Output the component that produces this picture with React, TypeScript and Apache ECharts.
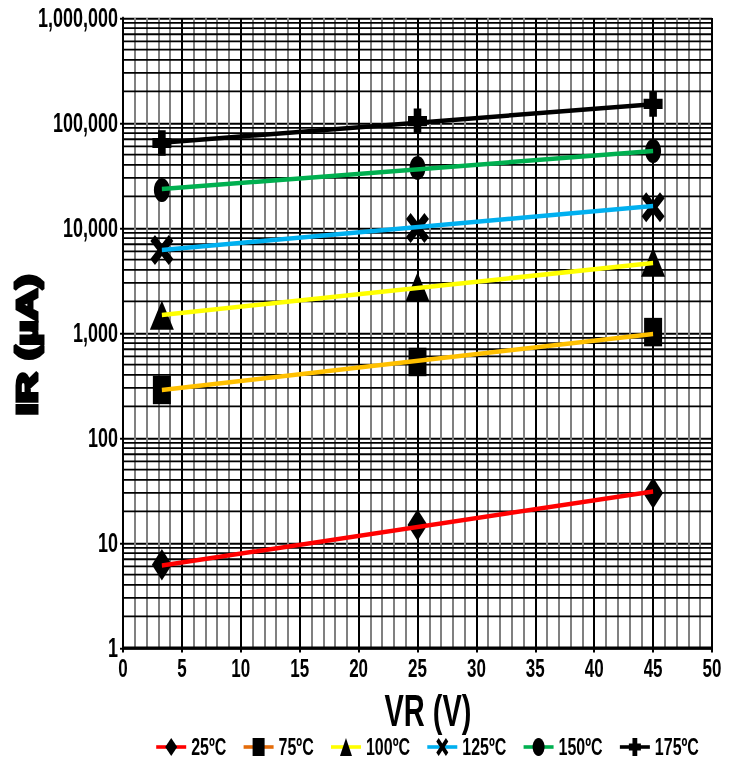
import React, { useEffect, useRef } from 'react';
import * as echarts from 'echarts';

// ---- data ----
const VR = [3.3, 25, 45];
const FIT_VR = [3.3, 45];
const TEMPS = ['25ºC', '75ºC', '100ºC', '125ºC', '150ºC', '175ºC'];

const M25 = [6.2, 14.8, 30];
const M75 = [287, 530, 1020];
const M100 = [1480, 2750, 4740];
const M125 = [6170, 10000, 15800];
const M150 = [23000, 37300, 54100];
const M175 = [64500, 104000, 152000];

const FIT25 = [6.1, 31];
const FIT75 = [287, 980];
const FIT100 = [1483, 4640];
const FIT125 = [6170, 16200];
const FIT150 = [23500, 54000];
const FIT175 = [64900, 151000];

const X_MIN = 0;
const X_MAX = 50;
const X_INTERVAL = 5;
const Y_MIN = 1;
const Y_MAX = 1000000;

const MARKERS = [M25, M75, M100, M125, M150, M175];
const FITS = [FIT25, FIT75, FIT100, FIT125, FIT150, FIT175];
const LINE_COLORS = ['#FF0000', '#FFC000', '#FFFF00', '#00B0F0', '#00B050', '#000000'];
const LEGEND_COLORS = ['#FF0000', '#E46C0A', '#FFFF00', '#00B0F0', '#00B050', '#000000'];

const SYM_X = 'path://M0,0.2L0.2,0L0.5,0.3L0.8,0L1,0.2L0.7,0.5L1,0.8L0.8,1L0.5,0.7L0.2,1L0,0.8L0.3,0.5Z';
const SYM_PLUS = 'path://M0.3,0H0.7V0.3H1V0.7H0.7V1H0.3V0.7H0V0.3H0.3Z';
const SYMBOLS = ['diamond', 'rect', 'triangle', SYM_X, 'circle', SYM_PLUS];
const SYMBOL_SIZES = [[20, 21], [18, 19], [24, 19.5], [23, 20], [16, 16], [19, 17]];

const FONT = '"Liberation Sans", Arial, sans-serif';
const STRETCH = 1.5;
const W = 735;
const H = 765 / STRETCH;

// minor log grid levels (2..9 within each decade)
const MINOR_LEVELS: number[] = [];
for (let d = Y_MIN; d < Y_MAX; d *= 10) {
  for (let k = 2; k <= 9; k++) MINOR_LEVELS.push(d * k);
}

export default function App() {
  const ref = useRef<HTMLDivElement>(null);

  useEffect(() => {
    if (!ref.current) return;
    const chart = echarts.init(ref.current, null, { renderer: 'svg' });

    const series: any[] = [];
    series.push({
      type: 'custom',
      name: 'grid',
      silent: true,
      z: 1,
      data: MINOR_LEVELS.map((v) => [X_MIN, v]),
      encode: { x: 0, y: 1 },
      renderItem: (params: any, api: any) => {
        const p = api.coord([api.value(0), api.value(1)]);
        const cs = params.coordSys;
        return {
          type: 'line',
          shape: { x1: cs.x, y1: p[1], x2: cs.x + cs.width, y2: p[1] },
          style: { stroke: '#000', lineWidth: 1.2 },
        };
      },
    });
    TEMPS.forEach((name, i) => {
      series.push({
        name,
        type: 'line',
        data: FIT_VR.map((x, j) => [x, FITS[i][j]]),
        symbol: SYMBOLS[i],
        symbolSize: SYMBOL_SIZES[i],
        showSymbol: false,
        itemStyle: { color: '#000', opacity: 1 },
        lineStyle: { color: LINE_COLORS[i], width: 3 },
        z: 4,
      });
    });
    TEMPS.forEach((name, i) => {
      series.push({
        name,
        type: 'scatter',
        data: VR.map((x, j) => [x, MARKERS[i][j]]),
        symbol: SYMBOLS[i],
        symbolSize: SYMBOL_SIZES[i],
        itemStyle: { color: '#000', opacity: 1 },
        z: 3,
      });
    });

    chart.setOption({
      animation: false,
      grid: { left: 123, right: W - 712, top: 18 / STRETCH, bottom: (765 - 648) / STRETCH },
      xAxis: {
        type: 'value',
        min: X_MIN,
        max: X_MAX,
        interval: X_INTERVAL,
        axisLine: { show: true, lineStyle: { color: '#000', width: 2 } },
        axisTick: { show: true, length: 3, lineStyle: { color: '#000', width: 2 } },
        axisLabel: { fontSize: 17, fontWeight: 'bold', color: '#000', fontFamily: FONT, margin: 5 },
        splitLine: { show: true, lineStyle: { color: '#000', width: 2 } },
        minorTick: { show: false, splitNumber: 5 },
        minorSplitLine: { show: true, lineStyle: { color: '#808080', width: 2 } },
      },
      yAxis: {
        type: 'log',
        logBase: 10,
        min: Y_MIN,
        max: Y_MAX,
        axisLine: { show: true, lineStyle: { color: '#000', width: 2 } },
        axisTick: { show: true, length: 3, lineStyle: { color: '#000', width: 1.3 } },
        axisLabel: {
          fontSize: 18,
          fontWeight: 'bold',
          color: '#000',
          fontFamily: FONT,
          margin: 5,
          formatter: (v: number) => Number(v).toLocaleString('en-US'),
        },
        splitLine: { show: true, lineStyle: { color: '#000', width: 1.3 } },
        minorTick: { show: false },
        minorSplitLine: { show: false },
      },
      legend: {
        data: TEMPS.map((name, i) => ({ name, lineStyle: { color: LEGEND_COLORS[i] } })),
        left: 155,
        top: 490,
        padding: 0,
        itemWidth: 30,
        itemHeight: 15,
        itemGap: 16,
        itemStyle: { color: '#000', opacity: 1 },
        lineStyle: { width: 2.4 },
        textStyle: { fontSize: 16, fontWeight: 'bold', color: '#000', fontFamily: FONT },
      },
      graphic: [
        {
          type: 'text',
          x: 428,
          y: 711 / STRETCH,
          style: {
            text: 'VR (V)',
            align: 'center',
            verticalAlign: 'middle',
            fontSize: 29,
            fontWeight: 'bold',
            fontFamily: FONT,
            fill: '#000',
          },
        },
        {
          type: 'text',
          x: 27.5,
          y: 345 / STRETCH,
          rotation: Math.PI / 2,
          style: {
            text: 'IR (µA)',
            align: 'center',
            verticalAlign: 'middle',
            fontSize: 29,
            fontWeight: 'bold',
            fontFamily: FONT,
            fill: '#000',
            stroke: '#000',
            lineWidth: 3,
          },
        },
      ],
      series,
    });

    return () => chart.dispose();
  }, []);

  return (
    <div
      ref={ref}
      style={{
        position: 'fixed',
        left: 0,
        top: 0,
        width: W,
        height: H,
        transform: `scaleY(${STRETCH})`,
        transformOrigin: 'top left',
      }}
    />
  );
}
